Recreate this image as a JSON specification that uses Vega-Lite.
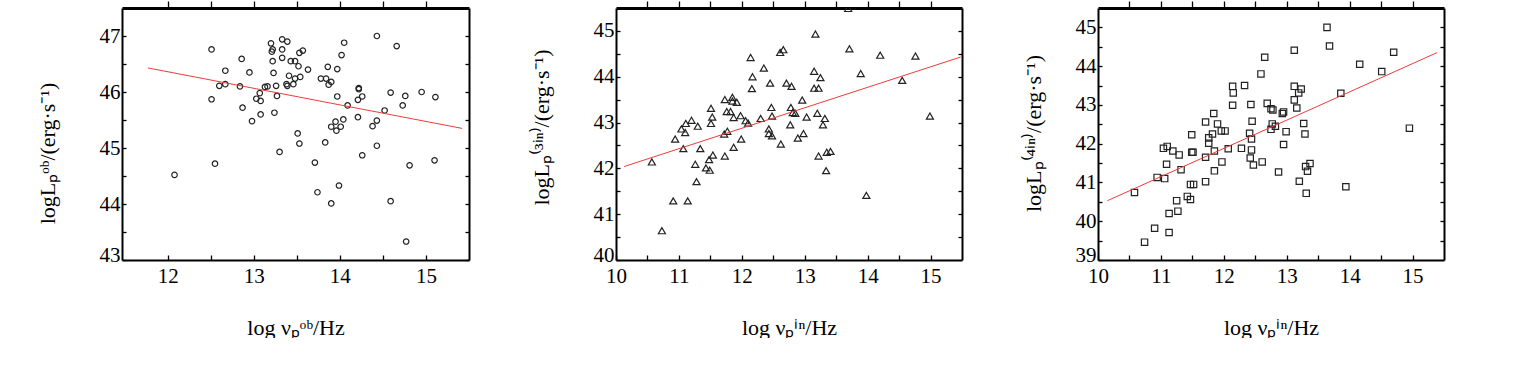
{
  "$schema": "https://vega.github.io/schema/vega-lite/v6.json",
  "background": "white",
  "padding": {"left": 36, "top": 0, "right": 5, "bottom": 0},
  "config": {
    "view": {"stroke": null},
    "font": "Liberation Serif",
    "axis": {
      "grid": false, "domainColor": "black", "domainWidth": 2, "tickColor": "black", "tickWidth": 1.3,
      "labelFont": "Liberation Serif", "labelFontSize": 21, "labelColor": "black",
      "titleFont": "Liberation Serif", "titleFontSize": 22, "titleFontWeight": "normal", "titleColor": "black",
      "labelFlush": false, "labelOverlap": false
    },
    "axisLeft": {"labelFlush": 1, "labelFlushOffset": 5}
  },
  "datasets": {
    "a": [{"x":12.08,"y":44.52},{"x":12.51,"y":46.76},{"x":12.51,"y":45.87},{"x":12.55,"y":44.72},{"x":12.60,"y":46.11},{"x":12.67,"y":46.38},{"x":12.67,"y":46.14},{"x":12.84,"y":46.10},{"x":12.86,"y":46.59},{"x":12.87,"y":45.72},{"x":12.95,"y":46.35},{"x":12.98,"y":45.48},{"x":13.03,"y":45.88},{"x":13.07,"y":45.98},{"x":13.08,"y":45.84},{"x":13.08,"y":45.60},{"x":13.13,"y":46.09},{"x":13.16,"y":46.10},{"x":13.20,"y":46.87},{"x":13.21,"y":46.72},{"x":13.22,"y":46.76},{"x":13.22,"y":46.55},{"x":13.23,"y":46.34},{"x":13.24,"y":45.63},{"x":13.26,"y":46.11},{"x":13.27,"y":45.93},{"x":13.30,"y":44.93},{"x":13.33,"y":46.94},{"x":13.33,"y":46.76},{"x":13.33,"y":46.61},{"x":13.39,"y":46.90},{"x":13.38,"y":46.14},{"x":13.39,"y":46.11},{"x":13.41,"y":46.29},{"x":13.43,"y":46.55},{"x":13.46,"y":46.14},{"x":13.48,"y":46.55},{"x":13.48,"y":46.24},{"x":13.51,"y":45.26},{"x":13.52,"y":46.46},{"x":13.53,"y":46.70},{"x":13.53,"y":45.08},{"x":13.54,"y":46.27},{"x":13.57,"y":46.74},{"x":13.63,"y":46.40},{"x":13.71,"y":44.74},{"x":13.74,"y":44.21},{"x":13.78,"y":46.24},{"x":13.83,"y":45.10},{"x":13.84,"y":46.24},{"x":13.86,"y":46.45},{"x":13.87,"y":46.13},{"x":13.90,"y":44.01},{"x":13.90,"y":46.18},{"x":13.90,"y":45.38},{"x":13.95,"y":45.47},{"x":13.96,"y":45.31},{"x":13.97,"y":45.92},{"x":13.97,"y":46.41},{"x":13.99,"y":44.33},{"x":14.01,"y":45.38},{"x":14.02,"y":46.66},{"x":14.04,"y":45.51},{"x":14.05,"y":46.88},{"x":14.09,"y":45.76},{"x":14.21,"y":45.55},{"x":14.21,"y":45.86},{"x":14.22,"y":46.07},{"x":14.22,"y":46.05},{"x":14.26,"y":44.87},{"x":14.26,"y":45.92},{"x":14.38,"y":45.39},{"x":14.43,"y":45.49},{"x":14.43,"y":45.04},{"x":14.43,"y":47.00},{"x":14.52,"y":45.67},{"x":14.59,"y":44.05},{"x":14.59,"y":45.99},{"x":14.66,"y":46.82},{"x":14.73,"y":45.76},{"x":14.76,"y":45.93},{"x":14.77,"y":43.33},{"x":14.81,"y":44.69},{"x":14.95,"y":46.00},{"x":15.10,"y":44.78},{"x":15.11,"y":45.91}],
    "f": [{"x":10.57,"y":42.14},{"x":10.73,"y":40.64},{"x":10.91,"y":41.29},{"x":10.94,"y":42.64},{"x":11.04,"y":42.86},{"x":11.07,"y":42.43},{"x":11.10,"y":42.78},{"x":11.11,"y":42.98},{"x":11.14,"y":41.29},{"x":11.20,"y":43.05},{"x":11.26,"y":42.09},{"x":11.28,"y":41.71},{"x":11.30,"y":42.92},{"x":11.34,"y":42.43},{"x":11.43,"y":42.01},{"x":11.48,"y":42.19},{"x":11.49,"y":41.96},{"x":11.51,"y":43.31},{"x":11.51,"y":42.98},{"x":11.53,"y":43.12},{"x":11.54,"y":42.29},{"x":11.73,"y":43.50},{"x":11.73,"y":42.27},{"x":11.72,"y":42.75},{"x":11.76,"y":43.24},{"x":11.77,"y":42.81},{"x":11.82,"y":43.24},{"x":11.85,"y":43.55},{"x":11.85,"y":43.47},{"x":11.87,"y":42.46},{"x":11.87,"y":43.11},{"x":11.92,"y":43.44},{"x":11.98,"y":43.15},{"x":11.99,"y":42.64},{"x":12.06,"y":43.04},{"x":12.10,"y":42.99},{"x":12.14,"y":44.42},{"x":12.16,"y":43.74},{"x":12.17,"y":44.00},{"x":12.30,"y":43.09},{"x":12.35,"y":44.19},{"x":12.43,"y":42.76},{"x":12.43,"y":42.86},{"x":12.45,"y":43.86},{"x":12.47,"y":43.33},{"x":12.48,"y":43.14},{"x":12.48,"y":42.71},{"x":12.62,"y":42.53},{"x":12.61,"y":44.53},{"x":12.66,"y":44.59},{"x":12.71,"y":43.86},{"x":12.77,"y":42.95},{"x":12.79,"y":43.79},{"x":12.78,"y":43.33},{"x":12.81,"y":43.22},{"x":12.85,"y":43.20},{"x":12.89,"y":42.66},{"x":12.96,"y":43.49},{"x":12.98,"y":42.76},{"x":13.03,"y":43.12},{"x":13.15,"y":43.75},{"x":13.15,"y":44.12},{"x":13.17,"y":44.93},{"x":13.20,"y":43.20},{"x":13.22,"y":43.75},{"x":13.22,"y":42.27},{"x":13.25,"y":43.98},{"x":13.29,"y":42.95},{"x":13.32,"y":43.09},{"x":13.34,"y":41.95},{"x":13.35,"y":42.35},{"x":13.41,"y":42.37},{"x":13.69,"y":45.49},{"x":13.71,"y":44.61},{"x":13.89,"y":44.07},{"x":13.98,"y":41.41},{"x":14.20,"y":44.47},{"x":14.55,"y":43.92},{"x":14.76,"y":44.45},{"x":14.99,"y":43.14}],
    "k": [{"x":10.58,"y":40.74},{"x":10.74,"y":39.46},{"x":10.90,"y":39.82},{"x":10.94,"y":41.13},{"x":11.06,"y":41.10},{"x":11.04,"y":41.88},{"x":11.10,"y":41.93},{"x":11.09,"y":41.47},{"x":11.13,"y":40.20},{"x":11.13,"y":39.71},{"x":11.19,"y":41.81},{"x":11.25,"y":40.53},{"x":11.27,"y":40.26},{"x":11.29,"y":41.71},{"x":11.32,"y":41.33},{"x":11.42,"y":40.64},{"x":11.47,"y":40.56},{"x":11.49,"y":42.23},{"x":11.49,"y":41.78},{"x":11.51,"y":41.78},{"x":11.47,"y":40.95},{"x":11.52,"y":40.95},{"x":11.71,"y":42.56},{"x":11.71,"y":41.65},{"x":11.71,"y":41.02},{"x":11.76,"y":42.15},{"x":11.76,"y":42.01},{"x":11.82,"y":42.25},{"x":11.84,"y":42.78},{"x":11.85,"y":41.81},{"x":11.85,"y":41.30},{"x":11.90,"y":42.51},{"x":11.96,"y":42.33},{"x":12.02,"y":42.33},{"x":11.97,"y":41.53},{"x":12.07,"y":41.87},{"x":12.14,"y":43.48},{"x":12.15,"y":43.31},{"x":12.14,"y":42.99},{"x":12.28,"y":41.88},{"x":12.33,"y":43.50},{"x":12.41,"y":42.27},{"x":12.42,"y":41.63},{"x":12.43,"y":43.01},{"x":12.45,"y":42.58},{"x":12.44,"y":42.12},{"x":12.44,"y":41.84},{"x":12.47,"y":41.45},{"x":12.59,"y":43.80},{"x":12.61,"y":41.53},{"x":12.65,"y":44.23},{"x":12.69,"y":43.04},{"x":12.75,"y":42.37},{"x":12.75,"y":42.90},{"x":12.78,"y":42.87},{"x":12.77,"y":42.51},{"x":12.82,"y":42.45},{"x":12.87,"y":41.27},{"x":12.93,"y":42.78},{"x":12.95,"y":42.82},{"x":12.95,"y":41.98},{"x":12.99,"y":42.31},{"x":13.12,"y":44.41},{"x":13.12,"y":43.48},{"x":13.12,"y":43.13},{"x":13.16,"y":42.92},{"x":13.19,"y":43.31},{"x":13.23,"y":43.41},{"x":13.20,"y":41.03},{"x":13.27,"y":42.52},{"x":13.29,"y":42.25},{"x":13.30,"y":41.41},{"x":13.31,"y":40.72},{"x":13.33,"y":41.29},{"x":13.37,"y":41.49},{"x":13.64,"y":45.00},{"x":13.68,"y":44.52},{"x":13.86,"y":43.30},{"x":13.94,"y":40.89},{"x":14.16,"y":44.05},{"x":14.51,"y":43.86},{"x":14.70,"y":44.36},{"x":14.95,"y":42.40}],
    "aline": [{"x":11.77,"y":46.43},{"x":15.42,"y":45.35}],
    "fline": [{"x":10.13,"y":42.04},{"x":15.48,"y":44.43}],
    "kline": [{"x":10.15,"y":40.53},{"x":15.39,"y":44.35}]
  },
  "bounds": "flush",
  "spacing": 147,
  "hconcat": [
    {
      "width": 347, "height": 252,
      "resolve": {"axis": {"x": "independent", "y": "independent"}},
      "layer": [
        {
          "data": {"name": "a"},
          "mark": {"type": "point", "shape": "circle", "filled": false, "size": 30, "stroke": "#222", "strokeWidth": 1.2, "opacity": 1},
          "encoding": {
            "x": {"field": "x", "type": "quantitative", "scale": {"domain": [11.47, 15.5], "nice": false, "zero": false},
              "axis": {"orient": "bottom", "values": [12, 12.5, 13, 13.5, 14, 14.5, 15], "tickSize": -5, "labelPadding": 10,
                "labelExpr": "datum.value % 1 === 0 ? format(datum.value, 'd') : ''",
                "title": "log νₚᵒᵇ/Hz", "titleY": 74, "titleBaseline": "alphabetic"}},
            "y": {"field": "y", "type": "quantitative", "scale": {"domain": [43, 47.5], "nice": false, "zero": false},
              "axis": {"orient": "left", "values": [43, 43.5, 44, 44.5, 45, 45.5, 46, 46.5, 47], "tickSize": -4, "labelPadding": 6,
                "labelExpr": "datum.value % 1 === 0 ? format(datum.value, 'd') : ''",
                "title": "logLₚᵒᵇ/(erg·s⁻¹)", "titleX": -68, "titleY": 145, "titleAngle": 270, "titleBaseline": "alphabetic", "titleAlign": "center"}}
          }
        },
        {
          "data": {"name": "aline"},
          "mark": {"type": "line", "color": "#f03a3a", "strokeWidth": 1},
          "encoding": {
            "x": {"field": "x", "type": "quantitative", "axis": {"orient": "top", "values": [12, 12.5, 13, 13.5, 14, 14.5, 15], "tickSize": 7, "labels": false, "title": null, "domainWidth": 3}},
            "y": {"field": "y", "type": "quantitative", "axis": {"orient": "right", "values": [43, 43.5, 44, 44.5, 45, 45.5, 46, 46.5, 47], "tickSize": -4, "labels": false, "title": null}}
          }
        },
        {
          "mark": {"type": "text", "fontSize": 24, "font": "Liberation Serif", "color": "black"},
          "encoding": {
            "x": {"datum": 11.85, "type": "quantitative", "axis": null},
            "y": {"datum": 47.0, "type": "quantitative", "axis": null},
            "text": {"value": "(a)"}
          }
        }
      ]
    },
    {
      "bounds": "flush",
      "spacing": 136,
      "hconcat": [
        {
          "width": 346, "height": 252,
          "resolve": {"axis": {"x": "independent", "y": "independent"}},
          "layer": [
            {
              "data": {"name": "f"},
              "mark": {"type": "point", "shape": "triangle-up", "filled": false, "size": 50, "stroke": "#222", "strokeWidth": 1.2, "opacity": 1, "clip": true},
              "encoding": {
                "x": {"field": "x", "type": "quantitative", "scale": {"domain": [10, 15.5], "nice": false, "zero": false},
                  "axis": {"orient": "bottom", "values": [10, 10.5, 11, 11.5, 12, 12.5, 13, 13.5, 14, 14.5, 15], "tickSize": -5, "labelPadding": 10,
                    "labelExpr": "datum.value % 1 === 0 ? format(datum.value, 'd') : ''",
                    "title": "log νₚⁱⁿ/Hz", "titleY": 74, "titleBaseline": "alphabetic"}},
                "y": {"field": "y", "type": "quantitative", "scale": {"domain": [40, 45.5], "nice": false, "zero": false},
                  "axis": {"orient": "left", "values": [40, 40.5, 41, 41.5, 42, 42.5, 43, 43.5, 44, 44.5, 45], "tickSize": -4, "labelPadding": 6,
                    "labelExpr": "datum.value % 1 === 0 ? format(datum.value, 'd') : ''",
                    "title": "logLₚ⁽³ⁱⁿ⁾/(erg·s⁻¹)", "titleX": -68, "titleY": 119, "titleAngle": 270, "titleBaseline": "alphabetic", "titleAlign": "center"}}
              }
            },
            {
              "data": {"name": "fline"},
              "mark": {"type": "line", "color": "#f03a3a", "strokeWidth": 1},
              "encoding": {
                "x": {"field": "x", "type": "quantitative", "axis": {"orient": "top", "values": [10.5, 11, 11.5, 12, 12.5, 13, 13.5, 14, 14.5, 15], "tickSize": 7, "labels": false, "title": null, "domainWidth": 3}},
                "y": {"field": "y", "type": "quantitative", "axis": {"orient": "right", "values": [40.5, 41, 41.5, 42, 42.5, 43, 43.5, 44, 44.5, 45], "tickSize": -4, "labels": false, "title": null}}
              }
            },
            {
              "mark": {"type": "text", "fontSize": 24, "font": "Liberation Serif", "color": "black"},
              "encoding": {
                "x": {"datum": 10.59, "type": "quantitative", "axis": null},
                "y": {"datum": 44.78, "type": "quantitative", "axis": null},
                "text": {"value": "(f)"}
              }
            }
          ]
        },
        {
          "width": 346, "height": 252,
          "resolve": {"axis": {"x": "independent", "y": "independent"}},
          "layer": [
            {
              "data": {"name": "k"},
              "mark": {"type": "point", "shape": "square", "filled": false, "size": 40, "stroke": "#222", "strokeWidth": 1.2, "opacity": 1},
              "encoding": {
                "x": {"field": "x", "type": "quantitative", "scale": {"domain": [10, 15.5], "nice": false, "zero": false},
                  "axis": {"orient": "bottom", "values": [10, 10.5, 11, 11.5, 12, 12.5, 13, 13.5, 14, 14.5, 15], "tickSize": -5, "labelPadding": 10,
                    "labelExpr": "datum.value % 1 === 0 ? format(datum.value, 'd') : ''",
                    "title": "log νₚⁱⁿ/Hz", "titleY": 74, "titleBaseline": "alphabetic"}},
                "y": {"field": "y", "type": "quantitative", "scale": {"domain": [39, 45.5], "nice": false, "zero": false},
                  "axis": {"orient": "left", "values": [39, 39.5, 40, 40.5, 41, 41.5, 42, 42.5, 43, 43.5, 44, 44.5, 45], "tickSize": -4, "labelPadding": 6,
                    "labelExpr": "datum.value % 1 === 0 ? format(datum.value, 'd') : ''",
                    "title": "logLₚ⁽⁴ⁱⁿ⁾/(erg·s⁻¹)", "titleX": -58, "titleY": 125, "titleAngle": 270, "titleBaseline": "alphabetic", "titleAlign": "center"}}
              }
            },
            {
              "data": {"name": "kline"},
              "mark": {"type": "line", "color": "#f03a3a", "strokeWidth": 1},
              "encoding": {
                "x": {"field": "x", "type": "quantitative", "axis": {"orient": "top", "values": [10.5, 11, 11.5, 12, 12.5, 13, 13.5, 14, 14.5, 15], "tickSize": 7, "labels": false, "title": null, "domainWidth": 3}},
                "y": {"field": "y", "type": "quantitative", "axis": {"orient": "right", "values": [39.5, 40, 40.5, 41, 41.5, 42, 42.5, 43, 43.5, 44, 44.5, 45], "tickSize": -4, "labels": false, "title": null}}
              }
            },
            {
              "mark": {"type": "text", "fontSize": 24, "font": "Liberation Serif", "color": "black"},
              "encoding": {
                "x": {"datum": 10.7, "type": "quantitative", "axis": null},
                "y": {"datum": 44.27, "type": "quantitative", "axis": null},
                "text": {"value": "(k)"}
              }
            }
          ]
        }
      ]
    }
  ]
}
